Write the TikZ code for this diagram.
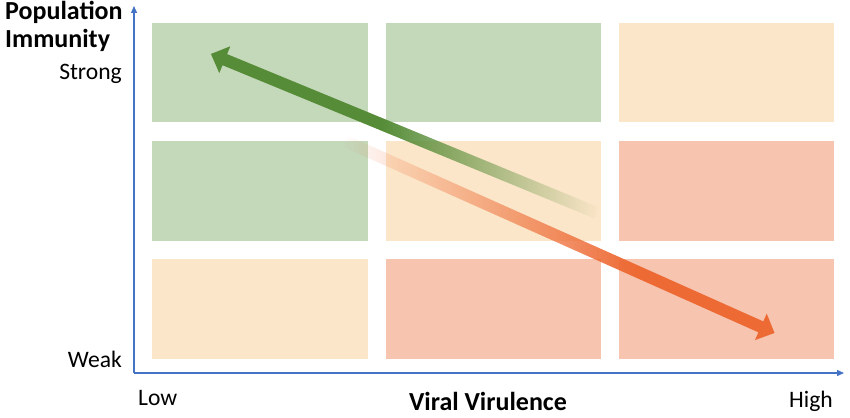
\documentclass[tikz,border=0pt]{standalone}
\usepackage{fontspec}
\setmainfont{Carlito}
\usetikzlibrary{calc,fadings,arrows.meta}

\definecolor{boxgreen}{RGB}{196,216,186}
\definecolor{boxpeach}{RGB}{252,230,201}
\definecolor{boxsalmon}{RGB}{247,196,176}
\definecolor{arrowgreen}{RGB}{86,140,55}
\definecolor{arroworange}{RGB}{237,106,52}
\definecolor{axisblue}{RGB}{68,114,196}

\begin{tikzfadingfrompicture}[name=fadeG]
\fill[transparent!0] (-60bp,-60bp) rectangle (-3bp,60bp);
\shade[left color=transparent!0, right color=transparent!100] (-3bp,-60bp) rectangle (25bp,60bp);
\fill[transparent!100] (25bp,-60bp) rectangle (60bp,60bp);
\end{tikzfadingfrompicture}

\begin{tikzfadingfrompicture}[name=fadeO]
\fill[transparent!100] (-60bp,-60bp) rectangle (-25bp,60bp);
\shade[left color=transparent!100, right color=transparent!0] (-25bp,-60bp) rectangle (9bp,60bp);
\fill[transparent!0] (9bp,-60bp) rectangle (60bp,60bp);
\end{tikzfadingfrompicture}

\begin{document}
\begin{tikzpicture}[x=1pt,y=-1pt,
  cellgreen/.style={fill=boxgreen},
  cellpeach/.style={fill=boxpeach},
  cellsalmon/.style={fill=boxsalmon},
  axisline/.style={draw=axisblue, line width=1.3pt, -{Triangle[length=7pt,width=6pt]}},
  lbl/.style={inner sep=0pt, font=\fontsize{23.6}{28}\selectfont},
  blbl/.style={inner sep=0pt, font=\fontsize{26}{31}\selectfont\bfseries}
]
\useasboundingbox (0,0) rectangle (850,417);

% cells
\fill[cellgreen]  (152,23) rectangle (368,122);
\fill[cellgreen]  (386,23) rectangle (601,122);
\fill[cellpeach]  (619,23) rectangle (834,122);
\fill[cellgreen]  (152,141) rectangle (368,241);
\fill[cellpeach]  (386,141) rectangle (601,241);
\fill[cellsalmon] (619,141) rectangle (834,241);
\fill[cellpeach]  (152,259) rectangle (368,359);
\fill[cellsalmon] (386,259) rectangle (601,359);
\fill[cellsalmon] (619,259) rectangle (834,359);

% axes
\coordinate (O) at (134,373);
\coordinate (Ytop) at (134,6);
\coordinate (Xend) at (844,373);
\draw[axisline] (O) -- (Ytop);
\draw[axisline] (O) -- (Xend);

% green arrow
\coordinate (gTip) at (211,54);
\coordinate (gTail) at (597,213);
\coordinate (gB) at ($(gTip)!15pt!(gTail)$);
\fill[arrowgreen, path fading=fadeG]
  (gTip) -- ($(gB)!14.5pt!90:(gTail)$) -- ($(gB)!6pt!90:(gTail)$)
  -- ($(gTail)!6pt!-90:(gB)$) -- ($(gTail)!6pt!90:(gB)$)
  -- ($(gB)!6pt!-90:(gTail)$) -- ($(gB)!14.5pt!-90:(gTail)$) -- cycle;

% orange arrow
\coordinate (oTip) at (775,333);
\coordinate (oTail) at (345,141);
\coordinate (oB) at ($(oTip)!15pt!(oTail)$);
\fill[arroworange, path fading=fadeO]
  (oTip) -- ($(oB)!14.5pt!90:(oTail)$) -- ($(oB)!6pt!90:(oTail)$)
  -- ($(oTail)!6pt!-90:(oB)$) -- ($(oTail)!6pt!90:(oB)$)
  -- ($(oB)!6pt!-90:(oTail)$) -- ($(oB)!14.5pt!-90:(oTail)$) -- cycle;

% labels
\node[blbl, anchor=base west] (pop) at (5,20) {Population};
\node[blbl, anchor=base west] (imm) at (5,48) {Immunity};
\node[lbl, anchor=base east] (strong) at (122,80) {Strong};
\node[lbl, anchor=base east] (weak) at (122,367) {Weak};
\node[lbl, anchor=base west] (low) at (138,405) {Low};
\node[blbl, anchor=base] (vv) at (488,410) {Viral Virulence};
\node[lbl, anchor=base east] (high) at (833,407) {High};
\end{tikzpicture}
\end{document}
